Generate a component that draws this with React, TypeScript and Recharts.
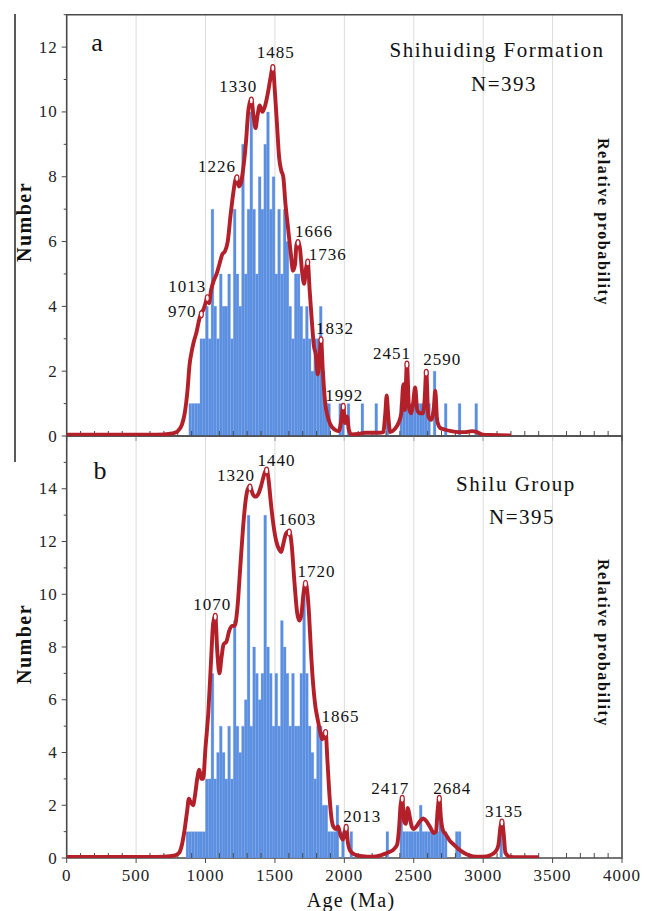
import React from "react";
import {
  ComposedChart,
  LineChart,
  Bar,
  Line,
  XAxis,
  YAxis,
  CartesianGrid,
  ReferenceArea,
  ReferenceDot,
} from "recharts";

const SERIF = '"Liberation Serif", "Times New Roman", serif';
const FRAME = "#4a4a4a";
const RED = "#b3202a";
const BLUE = "#5a8ee0";
const BLUE_EDGE = "#79a3e8";

// Histogram bins are 20 Ma wide; counts run from the first bin start.
const BIN_WIDTH = 20;

const binStartA = 880;
const countsA = [
  1, 1, 1, 1, 3, 3, 4, 3, 7, 4,
  3, 5, 4, 4, 5, 3, 7, 5, 4, 9,
  5, 7, 10, 7, 5, 8, 7, 9, 10, 7,
  8, 5, 7, 5, 7, 6, 4, 3, 5, 5,
  4, 3, 4, 3, 2, 3, 3, 4, 2, 1,
  1, 0, 0, 0, 1, 1, 0, 1, 0, 0,
  0, 0, 1, 0, 0, 0, 0, 1, 0, 0,
  0, 1, 0, 0, 0, 0, 1, 1, 2, 1,
  1, 1, 1, 1, 1, 2, 1, 0, 2, 0,
  0, 0, 1, 0, 0, 0, 0, 1, 0, 0,
  0, 0, 0, 1,
];

const binStartB = 860;
const countsB = [
  1, 1, 1, 1, 1, 1, 1, 3, 3, 7,
  3, 4, 5, 4, 3, 5, 3, 9, 5, 4,
  5, 6, 13, 5, 8, 7, 6, 7, 13, 8,
  7, 5, 7, 5, 9, 8, 7, 5, 7, 5,
  5, 7, 10, 7, 5, 4, 3, 5, 5, 2,
  2, 1, 1, 1, 2, 0, 1, 0, 0, 1,
  0, 0, 0, 0, 0, 0, 0, 0, 0, 0,
  0, 0, 1, 0, 0, 0, 0, 2, 1, 1,
  1, 1, 1, 1, 2, 1, 1, 1, 1, 1,
  1, 2, 1, 1, 0, 0, 0, 1, 1, 0,
  0, 0, 0, 0, 0, 0, 0, 0, 0, 0,
  0, 0, 0, 1,
];

// Relative probability curves, scaled to the count axis
const curveAgesA = [
  0, 200, 400, 600, 700, 760, 800, 830, 850, 870, 885, 900, 915, 935, 955, 970,
  985, 1000, 1013, 1025, 1040, 1060, 1080, 1100, 1120, 1140, 1160, 1180, 1200,
  1215, 1226, 1240, 1255, 1270, 1290, 1310, 1330, 1345, 1360, 1375, 1390, 1410,
  1430, 1450, 1470, 1485, 1500, 1515, 1530, 1545, 1560, 1575, 1595, 1615, 1630,
  1645, 1655, 1666, 1680, 1695, 1710, 1725, 1736, 1750, 1765, 1780, 1795, 1808,
  1820, 1832, 1845, 1860, 1880, 1900, 1930, 1960, 1975, 1992, 2005, 2020, 2032,
  2050, 2100, 2150, 2200, 2250, 2280, 2295, 2305, 2315, 2330, 2360, 2390, 2410,
  2425, 2435, 2451, 2465, 2480, 2495, 2510, 2525, 2545, 2565, 2578, 2590, 2605,
  2625, 2645, 2655, 2668, 2690, 2720, 2770, 2820, 2870, 2920, 2950, 3000, 3050,
  3200,
];
const curveProbA = [
  0.04, 0.04, 0.04, 0.04, 0.05, 0.08, 0.15, 0.35, 0.7, 1.4, 2.2, 2.6, 2.9, 3.2,
  3.6, 3.8, 3.9, 4.1, 4.3, 4.1, 4.5, 4.8, 5.0, 5.3, 5.6, 5.7, 6.0, 6.8, 7.5,
  7.9, 8.0, 7.7, 7.8, 8.2, 9.0, 10.1, 10.4, 9.9, 9.5, 9.9, 10.2, 10.0, 10.2,
  10.6, 11.1, 11.4, 10.6, 9.6, 8.6, 8.2, 8.0, 7.2, 6.4, 5.6, 5.1, 5.3, 5.9,
  6.0, 5.8, 5.1, 4.7, 5.2, 5.4, 4.5, 3.6, 2.8, 2.5, 1.9, 2.3, 3.0, 2.0, 1.1,
  0.6, 0.35, 0.2, 0.15, 0.4, 0.95, 0.4, 0.6, 0.2, 0.05, 0.06, 0.1, 0.1, 0.1,
  0.12, 0.7, 1.25, 0.7, 0.12, 0.2, 0.4, 0.7, 1.6, 0.8, 2.25, 0.9, 0.7, 1.0,
  1.5, 0.8, 0.7, 0.7, 1.1, 2.0, 0.6, 0.5, 0.9, 1.4, 0.5, 0.25, 0.2, 0.15,
  0.12, 0.12, 0.15, 0.13, 0.04, 0.03, 0.02,
];

const curveAgesB = [
  0, 200, 400, 600, 700, 780, 810, 830, 850, 868, 880, 895, 910, 925, 940, 955,
  970, 983, 1000, 1020, 1040, 1055, 1070, 1085, 1100, 1115, 1130, 1150, 1170,
  1190, 1210, 1230, 1250, 1270, 1290, 1305, 1320, 1340, 1360, 1380, 1400, 1420,
  1440, 1455, 1470, 1490, 1510, 1530, 1545, 1560, 1580, 1603, 1620, 1640, 1660,
  1675, 1690, 1705, 1720, 1735, 1745, 1760, 1775, 1790, 1810, 1825, 1840, 1852,
  1865, 1877, 1890, 1905, 1920, 1940, 1955, 1970, 1990, 2000, 2013, 2025, 2045,
  2080, 2130, 2200, 2260, 2310, 2350, 2380, 2395, 2405, 2417, 2430, 2443, 2457,
  2470, 2485, 2500, 2520, 2545, 2568, 2590, 2615, 2645, 2660, 2672, 2684, 2696,
  2710, 2730, 2760, 2790, 2820, 2860, 2900, 2950, 3000, 3050, 3090, 3110, 3125,
  3135, 3148, 3160, 3190, 3250, 3400,
];
const curveProbB = [
  0.04, 0.04, 0.04, 0.04, 0.05, 0.1, 0.2, 0.5, 1.1, 1.8, 2.25, 2.1, 2.0, 2.4,
  3.0, 3.35, 3.0, 3.0, 4.2, 5.5, 7.5, 8.9, 9.2, 7.8, 7.0, 7.6, 8.1, 8.2, 8.6,
  8.8, 8.8, 9.5, 11.0, 12.5, 13.6, 14.0, 14.1, 13.8, 13.7, 13.8, 14.1, 14.5,
  14.75, 14.3, 13.5, 12.6, 12.0, 11.7, 11.6, 11.9, 12.3, 12.4, 11.9, 10.5, 9.3,
  9.0, 9.2, 10.0, 10.45, 10.0, 9.3, 7.8, 6.6, 5.8, 5.2, 4.8, 4.5, 4.7, 4.8,
  3.8, 2.6, 1.6, 1.2, 1.1, 1.2, 0.9, 0.7, 0.9, 1.2, 0.6, 0.25, 0.12, 0.07,
  0.05, 0.1, 0.2, 0.3, 0.5, 1.2, 2.0, 2.3, 1.4, 1.3, 1.9, 1.6, 1.2, 1.1, 1.2,
  1.4, 1.5, 1.4, 1.2, 0.95, 1.0, 1.8, 2.3, 1.5, 1.05, 0.9, 0.65, 0.5, 0.35,
  0.2, 0.1, 0.05, 0.05, 0.1, 0.25, 0.5, 1.2, 1.4, 0.9, 0.2, 0.05, 0.03, 0.03,
];

// Labelled age peaks
const peaksA = [970, 1013, 1226, 1330, 1485, 1666, 1736, 1832, 1992, 2451, 2590];
const peaksB = [1070, 1320, 1440, 1603, 1720, 1865, 2013, 2417, 2684, 3135];

// where each peak label sits relative to its peak (px)
const labelShiftA: Record<number, [number, number]> = {
  970: [-19, -1],
  1013: [-20, -10],
  1226: [-20, -10],
  1330: [-13, -12],
  1485: [3, -14],
  1666: [16, -10],
  1736: [20, -6],
  1832: [14, -10],
  1992: [1, -10],
  2451: [-15, -10],
  2590: [16, -12],
};
const labelShiftB: Record<number, [number, number]> = {
  1070: [-3, -11],
  1320: [-14, -11],
  1440: [10, -8],
  1603: [8, -11],
  1720: [11, -11],
  1865: [15, -15],
  2013: [16, -10],
  2417: [-12, -9],
  2684: [13, -9],
  3135: [2, -10],
};

const ageTicks = Array.from({ length: 41 }, (_, i) => i * 100);
const gridAges = [500, 1000, 1500, 2000, 2500, 3000, 3500];

const toBins = (start: number, counts: number[]) =>
  counts.map((n, i) => ({ age: start + i * BIN_WIDTH + BIN_WIDTH / 2, n }));
const toCurve = (ages: number[], probs: number[]) =>
  ages.map((age, i) => ({ age, p: probs[i] }));

const gridLines = ({ xAxis, offset }: any) =>
  gridAges.map((a) =>
    xAxis && typeof xAxis.scale === "function"
      ? xAxis.scale(a)
      : offset.left + (offset.width * a) / 4000
  );

const tickText = {
  fontFamily: SERIF,
  fontSize: 17,
  letterSpacing: 1,
  fill: "#222",
};

function AgeTick({ x, y, payload, labels }: any) {
  const v = payload.value;
  const major = v % 500 === 0;
  return (
    <g>
      <line x1={x} x2={x} y1={y} y2={major ? y + 5 : y - 5} stroke={FRAME} strokeWidth={1} />
      {major && labels && (
        <text x={x} y={y + 17} textAnchor="middle" dominantBaseline="central" style={tickText}>
          {v}
        </text>
      )}
    </g>
  );
}

function CountTick({ x, y, payload, maxLabel }: any) {
  const v = payload.value;
  const major = v % 2 === 0;
  return (
    <g>
      <line x1={x - (major ? 5 : 3)} x2={x} y1={y} y2={y} stroke={FRAME} strokeWidth={1} />
      {major && v <= maxLabel && (
        <text x={x - 9} y={y} textAnchor="end" dominantBaseline="central" style={tickText}>
          {v}
        </text>
      )}
    </g>
  );
}

function PeakMark({ cx, cy, text, shift }: any) {
  return (
    <g>
      <ellipse cx={cx} cy={cy + 1.5} rx={2} ry={3.4} fill="#fff" stroke={RED} strokeWidth={1.2} />
      <text
        x={cx + shift[0]}
        y={cy + shift[1]}
        textAnchor="middle"
        dominantBaseline="central"
        style={{ fontFamily: SERIF, fontSize: 17, letterSpacing: 1, fill: "#111" }}
      >
        {text}
      </text>
    </g>
  );
}

interface PanelProps {
  top: number;
  height: number;
  marginTop: number;
  axisHeight: number;
  yMax: number;
  yTicks: number[];
  maxLabel: number;
  bins: { age: number; n: number }[];
  curve: { age: number; p: number }[];
  peaks: number[];
  shifts: Record<number, [number, number]>;
  ageLabels: boolean;
}

const W = 646;
const RIGHT = 24;
const LEFT = 66.7;

function HistogramLayer(props: PanelProps) {
  const { top, height, marginTop, axisHeight, yMax, yTicks, maxLabel, bins, ageLabels } = props;
  return (
    <div style={{ position: "absolute", left: 0, top }}>
      <ComposedChart
        width={W}
        height={height}
        data={bins}
        margin={{ top: marginTop, right: RIGHT, bottom: 0, left: 0 }}
        barCategoryGap={0}
        barGap={0}
      >
        <CartesianGrid horizontal={false} stroke="#dcdcdc" verticalCoordinatesGenerator={gridLines} />
        <XAxis
          dataKey="age"
          type="number"
          domain={[0, 4000]}
          ticks={ageTicks}
          interval={0}
          height={axisHeight}
          tickSize={0}
          tickMargin={0}
          tickLine={false}
          axisLine={false}
          allowDataOverflow
          tick={(p: any) => <AgeTick {...p} labels={ageLabels} />}
        />
        <YAxis
          type="number"
          domain={[0, yMax]}
          ticks={yTicks}
          interval={0}
          width={LEFT}
          tickSize={0}
          tickMargin={0}
          tickLine={false}
          axisLine={false}
          allowDataOverflow
          tick={(p: any) => <CountTick {...p} maxLabel={maxLabel} />}
        />
        <Bar
          dataKey="n"
          barSize={2.77}
          fill={BLUE}
          stroke={BLUE_EDGE}
          strokeWidth={0.25}
          isAnimationActive={false}
        />
        <ReferenceArea x1={0} x2={4000} y1={0} y2={yMax} fill="none" stroke={FRAME} strokeWidth={1.6} />
      </ComposedChart>
    </div>
  );
}

function CurveLayer(props: PanelProps) {
  const { top, height, marginTop, axisHeight, yMax, curve, peaks, shifts } = props;
  const valueAt = (age: number) => curve.find((d) => d.age === age)?.p ?? 0;
  return (
    <div style={{ position: "absolute", left: 0, top }}>
      <LineChart
        width={W}
        height={height}
        data={curve}
        margin={{ top: marginTop, right: RIGHT, bottom: axisHeight, left: LEFT }}
      >
        <XAxis dataKey="age" type="number" domain={[0, 4000]} hide allowDataOverflow />
        <YAxis type="number" domain={[0, yMax]} hide allowDataOverflow />
        <Line
          type="monotone"
          dataKey="p"
          stroke={RED}
          strokeWidth={3.9}
          dot={false}
          isAnimationActive={false}
        />
        {peaks.map((age) => (
          <ReferenceDot
            key={age}
            x={age}
            y={valueAt(age)}
            r={2}
            shape={(p: any) => <PeakMark {...p} text={String(age)} shift={shifts[age]} />}
          />
        ))}
      </LineChart>
    </div>
  );
}

const panelA: PanelProps = {
  top: 0,
  height: 466,
  marginTop: 14.7,
  axisHeight: 30,
  yMax: 13,
  yTicks: [0, 1, 2, 3, 4, 5, 6, 7, 8, 9, 10, 11, 12, 13],
  maxLabel: 12,
  bins: toBins(binStartA, countsA),
  curve: toCurve(curveAgesA, curveProbA),
  peaks: peaksA,
  shifts: labelShiftA,
  ageLabels: false,
};

const panelB: PanelProps = {
  top: 430,
  height: 481,
  marginTop: 6,
  axisHeight: 53,
  yMax: 16,
  yTicks: [0, 1, 2, 3, 4, 5, 6, 7, 8, 9, 10, 11, 12, 13, 14, 15],
  maxLabel: 14,
  bins: toBins(binStartB, countsB),
  curve: toCurve(curveAgesB, curveProbB),
  peaks: peaksB,
  shifts: labelShiftB,
  ageLabels: true,
};

const titleStyle = { fontFamily: SERIF, fontSize: 21, letterSpacing: 1.5, fill: "#111" };
const letterStyle = { fontFamily: SERIF, fontSize: 26, fill: "#111" };
const axisTitle = { fontFamily: SERIF, fontSize: 20, fontWeight: 700, letterSpacing: 1.5, fill: "#111" };
const probTitle = { fontFamily: SERIF, fontSize: 16, fontWeight: 700, letterSpacing: 1.6, fill: "#111" };

export default function App() {
  return (
    <div style={{ position: "absolute", left: 0, top: 0, width: W, height: 911, background: "#fff" }}>
      <HistogramLayer {...panelA} />
      <HistogramLayer {...panelB} />
      <CurveLayer {...panelA} />
      <CurveLayer {...panelB} />
      <svg
        width={W}
        height={911}
        style={{ position: "absolute", left: 0, top: 0, pointerEvents: "none" }}
      >
        <line x1={15} x2={15} y1={14} y2={462} stroke="#000" strokeWidth={1.3} />

        <text x={97} y={42} textAnchor="middle" dominantBaseline="central" style={letterStyle}>a</text>
        <text x={497} y={50} textAnchor="middle" dominantBaseline="central" style={titleStyle}>
          Shihuiding Formation
        </text>
        <text x={504} y={84} textAnchor="middle" dominantBaseline="central" style={titleStyle}>N=393</text>

        <text x={100} y={470} textAnchor="middle" dominantBaseline="central" style={letterStyle}>b</text>
        <text x={516} y={484} textAnchor="middle" dominantBaseline="central" style={titleStyle}>
          Shilu Group
        </text>
        <text x={522} y={517} textAnchor="middle" dominantBaseline="central" style={titleStyle}>N=395</text>

        <text transform="translate(24,222) rotate(-90)" textAnchor="middle" dominantBaseline="central" style={axisTitle}>
          Number
        </text>
        <text transform="translate(24,644) rotate(-90)" textAnchor="middle" dominantBaseline="central" style={axisTitle}>
          Number
        </text>
        <text transform="translate(603,222) rotate(90)" textAnchor="middle" dominantBaseline="central" style={probTitle}>
          Relative probability
        </text>
        <text transform="translate(603,643) rotate(90)" textAnchor="middle" dominantBaseline="central" style={probTitle}>
          Relative probability
        </text>
        <text x={351} y={900} textAnchor="middle" dominantBaseline="central" style={{ ...axisTitle, fontWeight: 400, letterSpacing: 1.3 }}>
          Age (Ma)
        </text>
      </svg>
    </div>
  );
}
